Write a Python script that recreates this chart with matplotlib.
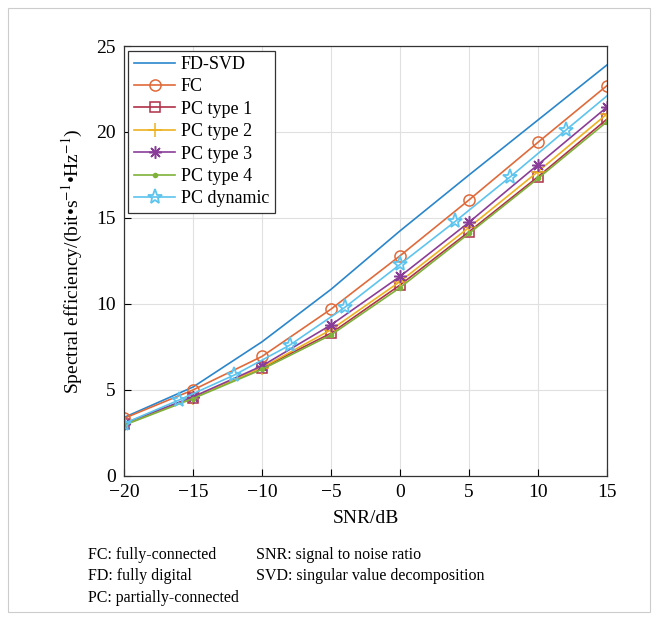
import matplotlib
matplotlib.use("Agg")
import matplotlib.pyplot as plt
from matplotlib.patches import Rectangle

plt.rcParams["font.family"] = ["Liberation Serif", "DejaVu Serif"]
plt.rcParams["mathtext.fontset"] = "stix"

snr = [-20, -15, -10, -5, 0, 5, 10, 15]
fd_svd = [3.4, 5.17, 7.8, 10.85, 14.25, 17.5, 20.7, 23.9]
fc = [3.35, 5.0, 6.95, 9.7, 12.8, 16.05, 19.4, 22.7]
pc1 = [3.0, 4.55, 6.28, 8.3, 11.1, 14.2, 17.4, 20.75]
pc2 = [3.0, 4.55, 6.3, 8.5, 11.3, 14.45, 17.7, 21.05]
pc3 = [3.05, 4.6, 6.4, 8.78, 11.6, 14.75, 18.1, 21.45]
pc4 = [2.95, 4.5, 6.2, 8.2, 10.95, 14.1, 17.3, 20.6]
snr_dyn = [-20, -16, -12, -8, -4, 0, 4, 8, 12, 15]
pc_dyn = [3.05, 4.42, 5.87, 7.6, 9.8, 12.3, 14.8, 17.4, 20.1, 22.1]

labels = ["FD-SVD", "FC", "PC type 1", "PC type 2", "PC type 3", "PC type 4", "PC dynamic"]

fig = plt.figure(figsize=(6.58, 6.20), dpi=100)
ax = fig.add_axes([0.1884, 0.2323, 0.9225 - 0.1884, 0.9258 - 0.2323])

lw = 1.2
ax.plot(snr, fd_svd, color="#2a86cc", lw=lw, label=labels[0])
ax.plot(snr, fc, color="#e06a3a", lw=lw, marker="o", ms=8, mfc="none", mew=1.1, label=labels[1])
ax.plot(snr, pc1, color="#b03048", lw=lw, marker="s", ms=7, mfc="none", mew=1.1, label=labels[2])
ax.plot(snr, pc2, color="#EDB120", lw=lw, marker="+", ms=10, mew=1.1, label=labels[3])
ax.plot(snr, pc3, color="#8a3d98", lw=lw, marker=(8, 2, 0), ms=9, mew=1.1, label=labels[4])
ax.plot(snr, pc4, color="#7fb23a", lw=lw, marker=".", ms=6, label=labels[5])
ax.plot(snr_dyn, pc_dyn, color="#5cc4ee", lw=lw, marker="*", ms=11, mfc="none", mew=1.3,
        markevery=list(range(len(snr_dyn) - 1)), label=labels[6])

ax.set_xlim(-20, 15)
ax.set_ylim(0, 25)
ax.set_xticks(range(-20, 16, 5))
ax.set_yticks(range(0, 26, 5))
ax.set_xticklabels(["\u221220", "\u221215", "\u221210", "\u22125", "0", "5", "10", "15"])
ax.tick_params(direction="in", labelsize=14, length=5, width=0.8, pad=6)
ax.grid(True, color="#e0e0e0", lw=0.8)
ax.set_axisbelow(True)
for sp in ax.spines.values():
    sp.set_linewidth(0.9)
    sp.set_color("#333333")

ax.set_xlabel("SNR/dB", fontsize=14, labelpad=6)
ax.set_ylabel("Spectral efficiency/(bit\u2022s$^{-1}$\u2022Hz$^{-1}$)", fontsize=14, labelpad=8)

leg = ax.legend(loc="upper left", fontsize=13, frameon=True, fancybox=False,
                framealpha=1, edgecolor="#333333", handlelength=2.3,
                handletextpad=0.3, borderpad=0.3, labelspacing=0.3,
                borderaxespad=0.25)
leg.get_frame().set_linewidth(0.9)

fs = 11.5
fig.text(88 / 658, 1 - 555 / 620, "FC: fully-connected", fontsize=fs, va="center")
fig.text(88 / 658, 1 - 576 / 620, "FD: fully digital", fontsize=fs, va="center")
fig.text(88 / 658, 1 - 598 / 620, "PC: partially-connected", fontsize=fs, va="center")
fig.text(256 / 658, 1 - 555 / 620, "SNR: signal to noise ratio", fontsize=fs, va="center")
fig.text(256 / 658, 1 - 576 / 620, "SVD: singular value decomposition", fontsize=fs, va="center")

fig.patches.append(Rectangle((8 / 658, 8 / 620), 642 / 658, 604 / 620,
                             transform=fig.transFigure, fill=False,
                             edgecolor="#cccccc", lw=0.8))

fig.savefig("out.png", dpi=100)
